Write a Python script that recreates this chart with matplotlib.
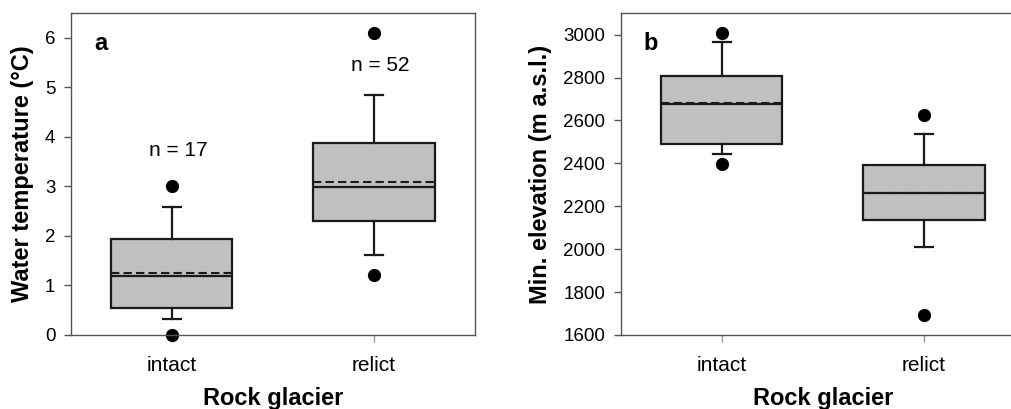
import matplotlib
matplotlib.use("Agg")
from matplotlib import pyplot as plt

plt.rcParams["font.family"] = ["Liberation Sans", "DejaVu Sans"]

groups = ["intact", "relict"]

# water temperature (deg C): whisker low, q1, median, q3, whisker high, mean
temp_whislo = [0.32, 1.62]
temp_q1 = [0.55, 2.30]
temp_med = [1.19, 2.99]
temp_q3 = [1.94, 3.87]
temp_whishi = [2.59, 4.84]
temp_mean = [1.26, 3.09]
temp_fliers = [[0.0, 3.0], [1.21, 6.10]]
temp_n = ["n = 17", "n = 52"]

# minimum elevation (m a.s.l.)
elev_whislo = [2444, 2008]
elev_q1 = [2491, 2137]
elev_med = [2675, 2260]
elev_q3 = [2809, 2393]
elev_whishi = [2964, 2539]
elev_mean = [2680, 2262]
elev_fliers = [[2398, 3007], [1692, 2626]]

spine_col = "#555555"


def make_stats(lo, q1, med, q3, hi, mean, fliers):
    stats = []
    for i in range(len(groups)):
        stats.append({"whislo": lo[i], "q1": q1[i], "med": med[i], "q3": q3[i],
                      "whishi": hi[i], "mean": mean[i], "fliers": fliers[i],
                      "label": groups[i]})
    return stats


def draw_panel(ax, stats, ylim, yticks, ylabel, letter):
    ax.bxp(stats, positions=[1, 2], widths=0.6, patch_artist=True,
           showmeans=True, meanline=True, capwidths=0.09,
           boxprops=dict(facecolor="#c0c0c0", edgecolor="#1a1a1a", linewidth=1.6),
           medianprops=dict(color="#1a1a1a", linewidth=1.6),
           meanprops=dict(color="#1a1a1a", linestyle=(0, (4, 2)), linewidth=1.5),
           whiskerprops=dict(color="#1a1a1a", linewidth=1.6),
           capprops=dict(color="#1a1a1a", linewidth=1.6),
           flierprops=dict(marker="o", markerfacecolor="black", markeredgecolor="black",
                           markersize=8.5, clip_on=False))
    ax.set_xlim(0.5, 2.5)
    ax.set_ylim(*ylim)
    ax.set_yticks(yticks)
    ax.set_xticks([1, 2])
    ax.set_xticklabels(groups)
    ax.tick_params(axis="y", direction="out", length=5, width=1, color=spine_col,
                   labelsize=13.5, pad=6)
    ax.tick_params(axis="x", direction="out", length=5, width=1, color="#999999",
                   labelsize=15, pad=10)
    for s in ax.spines.values():
        s.set_color(spine_col)
        s.set_linewidth(1)
    ax.set_xlabel("Rock glacier", fontsize=17, fontweight="bold", labelpad=9)
    ax.set_ylabel(ylabel, fontsize=17, fontweight="bold", labelpad=8)
    ax.text(0.075, 0.905, letter, transform=ax.transAxes, fontsize=17,
            fontweight="bold", ha="center", va="center")


fig = plt.figure(figsize=(10.11, 4.09), dpi=100)
ax1 = fig.add_axes([0.0699, 0.181, 0.4, 0.7866])
ax2 = fig.add_axes([0.6138, 0.181, 0.4, 0.7866])

draw_panel(ax1, make_stats(temp_whislo, temp_q1, temp_med, temp_q3, temp_whishi,
                           temp_mean, temp_fliers),
           (0, 6.5), range(0, 7), "Water temperature (°C)", "a")
ax1.text(1.03, 3.73, temp_n[0], fontsize=15, ha="center", va="center")
ax1.text(2.03, 5.45, temp_n[1], fontsize=15, ha="center", va="center")

draw_panel(ax2, make_stats(elev_whislo, elev_q1, elev_med, elev_q3, elev_whishi,
                           elev_mean, elev_fliers),
           (1600, 3100), range(1600, 3001, 200), "Min. elevation (m a.s.l.)", "b")

fig.savefig("out.png", dpi=100)
plt.close(fig)
